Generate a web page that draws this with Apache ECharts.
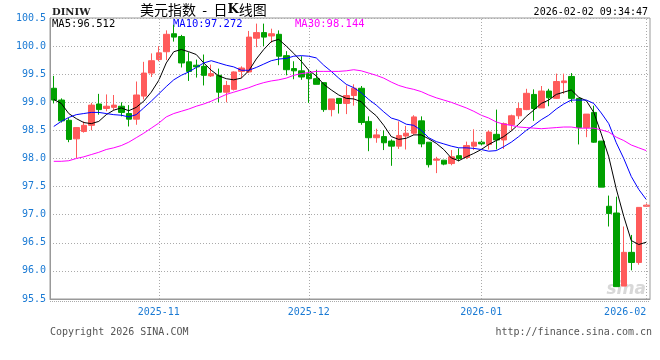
<!DOCTYPE html>
<html><head><meta charset="utf-8">
<script src="https://cdn.jsdelivr.net/npm/echarts@6/dist/echarts.min.js"></script>
<style>html,body{margin:0;padding:0;background:#fff}#c{width:660px;height:360px}</style>
</head><body><div id="c"></div>
<script>
const categories = [
 '2025-10-14','2025-10-15','2025-10-16','2025-10-17','2025-10-20','2025-10-21','2025-10-22','2025-10-23','2025-10-24','2025-10-27','2025-10-28','2025-10-29','2025-10-30','2025-10-31',
 '2025-11-03','2025-11-04','2025-11-05','2025-11-06','2025-11-07','2025-11-10','2025-11-11','2025-11-12','2025-11-13','2025-11-14','2025-11-17','2025-11-18','2025-11-19','2025-11-20','2025-11-21','2025-11-24','2025-11-25','2025-11-26','2025-11-27','2025-11-28',
 '2025-12-01','2025-12-02','2025-12-03','2025-12-04','2025-12-05','2025-12-08','2025-12-09','2025-12-10','2025-12-11','2025-12-12','2025-12-15','2025-12-16','2025-12-17','2025-12-18','2025-12-19','2025-12-22','2025-12-23','2025-12-24','2025-12-25','2025-12-26','2025-12-29','2025-12-30','2025-12-31',
 '2026-01-01','2026-01-02','2026-01-05','2026-01-06','2026-01-07','2026-01-08','2026-01-09','2026-01-12','2026-01-13','2026-01-14','2026-01-15','2026-01-16','2026-01-19','2026-01-20','2026-01-21','2026-01-22','2026-01-23','2026-01-26','2026-01-27','2026-01-28','2026-01-29','2026-01-30',
 '2026-02-02'
];
const opens = [99.25,99.04,98.68,98.35,98.48,98.59,98.97,98.89,98.91,98.93,
 98.80,98.70,99.11,99.52,99.76,99.90,100.22,100.17,99.72,99.66,
 99.64,99.47,99.48,99.18,99.23,99.55,99.54,100.14,100.24,100.18,
 100.21,99.83,99.60,99.56,99.51,99.42,99.35,98.87,99.07,98.98,
 99.12,99.25,98.66,98.37,98.39,98.31,98.22,98.40,98.45,98.67,
 98.29,97.97,97.97,97.91,98.05,98.02,98.22,98.29,98.25,98.43,
 98.33,98.60,98.76,98.87,99.14,98.90,99.20,99.07,99.35,99.46,
 99.07,98.55,98.82,98.31,97.15,97.03,95.73,96.33,96.15,97.15];
const closes = [99.04,98.67,98.34,98.55,98.59,98.95,98.87,98.93,98.95,98.82,
 98.70,99.13,99.52,99.74,99.88,100.21,100.16,99.70,99.55,99.63,
 99.48,99.51,99.18,99.30,99.54,99.61,100.16,100.24,100.16,100.22,
 99.82,99.58,99.56,99.45,99.42,99.32,98.87,99.06,98.98,99.12,
 99.25,98.64,98.37,98.42,98.28,98.22,98.41,98.45,98.74,98.26,
 97.89,97.99,97.90,98.03,98.00,98.23,98.29,98.26,98.47,98.33,
 98.62,98.76,98.89,99.16,98.89,99.20,99.08,99.37,99.38,99.07,
 98.55,98.79,98.29,97.49,97.02,95.72,96.33,96.15,97.13,97.17];
const lows = [98.98,98.64,98.29,98.01,98.46,98.50,98.78,98.84,98.86,98.75,
 98.57,98.60,99.05,99.45,99.73,99.75,100.08,99.62,99.38,99.44,
 99.30,99.45,99.00,99.00,99.21,99.43,99.52,99.98,100.00,100.06,
 99.66,99.48,99.41,99.40,98.99,99.32,98.83,98.75,98.80,98.79,
 98.94,98.60,98.13,98.28,98.15,97.87,98.17,98.16,98.42,98.20,
 97.84,97.74,97.88,97.88,97.95,97.99,98.15,98.24,98.16,98.16,
 98.17,98.50,98.70,98.86,98.67,98.90,98.93,99.06,99.15,99.00,
 98.25,98.38,98.28,97.49,96.79,95.72,95.73,96.01,96.11,97.14];
const highs = [99.47,99.07,98.72,98.56,98.66,98.99,99.15,99.14,99.13,99.00,
 98.95,99.37,99.72,99.87,100.00,100.28,100.38,100.20,99.89,99.76,
 99.85,99.67,99.60,99.38,99.55,99.64,100.27,100.40,100.40,100.31,
 100.28,99.91,99.73,99.82,99.58,99.58,99.35,99.06,99.07,99.30,
 99.32,99.29,98.75,98.53,98.50,98.34,98.66,98.58,98.77,98.75,
 98.29,98.03,97.97,98.15,98.18,98.30,98.52,98.32,98.50,98.87,
 98.64,98.78,98.99,99.24,99.23,99.29,99.24,99.51,99.51,99.52,
 99.07,98.79,98.94,98.31,97.34,97.32,96.79,96.64,97.13,97.20];
const ma5 = [99.05,98.98,98.80,98.71,98.64,98.62,98.66,98.78,98.86,98.90,
 98.85,98.91,99.02,99.18,99.39,99.70,99.90,99.94,99.90,99.85,
 99.70,99.57,99.47,99.42,99.40,99.43,99.56,99.77,99.94,100.08,
 100.12,100.00,99.87,99.73,99.57,99.47,99.32,99.22,99.13,99.07,
 99.06,99.01,98.87,98.76,98.59,98.39,98.34,98.36,98.42,98.42,
 98.35,98.27,98.16,98.01,97.96,98.03,98.09,98.16,98.25,98.32,
 98.39,98.49,98.61,98.75,98.86,98.98,99.04,99.14,99.18,99.22,
 99.09,99.03,98.82,98.44,98.03,97.46,96.97,96.54,96.47,96.51];
const ma10 = [98.57,98.66,98.73,98.78,98.80,98.82,98.82,98.80,98.78,98.77,
 98.74,98.78,98.90,99.02,99.15,99.28,99.40,99.48,99.54,99.62,
 99.70,99.74,99.70,99.66,99.63,99.57,99.57,99.62,99.68,99.74,
 99.77,99.78,99.82,99.83,99.82,99.79,99.66,99.55,99.43,99.32,
 99.26,99.17,99.05,98.95,98.83,98.72,98.68,98.61,98.59,98.50,
 98.37,98.30,98.26,98.22,98.19,98.19,98.18,98.16,98.13,98.14,
 98.21,98.29,98.39,98.50,98.59,98.69,98.77,98.88,98.97,99.04,
 99.04,99.04,98.98,98.81,98.62,98.28,98.00,97.68,97.45,97.27];
const ma30 = [97.95,97.95,97.96,98.00,98.03,98.07,98.11,98.16,98.19,98.23,
 98.29,98.37,98.45,98.54,98.63,98.74,98.80,98.84,98.88,98.93,
 98.97,99.02,99.08,99.14,99.18,99.22,99.26,99.31,99.35,99.38,
 99.40,99.43,99.48,99.51,99.53,99.55,99.55,99.55,99.55,99.56,
 99.58,99.56,99.52,99.48,99.43,99.36,99.30,99.26,99.23,99.19,
 99.13,99.08,99.04,99.00,98.95,98.90,98.84,98.77,98.72,98.65,
 98.61,98.59,98.56,98.55,98.54,98.53,98.54,98.55,98.56,98.56,
 98.54,98.54,98.54,98.51,98.47,98.38,98.32,98.24,98.19,98.14];
const monthTicks = {'2025-11-03':'2025-11','2025-12-01':'2025-12','2026-01-01':'2026-01','2026-02-02':'2026-02'};
const maLegend = [['MA5','96.512'],['MA10','97.272'],['MA30','98.144']];
const titleMain = '美元指数  -  日';
const titleK = 'K';
const titleTail = '线图';
const symbolText = 'DINIW';
const stampText = '2026-02-02 09:34:47';
const footerLeft = 'Copyright 2026 SINA.COM';
const footerRight = 'http://finance.sina.com.cn';

const MONO = '"DejaVu Sans Mono", monospace';
const BLUE = '#1a7ad4';
const maColors = ['#000000','#0000ff','#ff00ff'];
const maX = [52, 173, 295];

const kData = categories.map((c,i)=>[opens[i],closes[i],lows[i],highs[i]]);

const chart = echarts.init(document.getElementById('c'), null, {renderer:'canvas'});
const graphics = [
  {type:'text', style:{text:symbolText, x:52, y:12, verticalAlign:'middle', font:'bold 10px "DejaVu Serif"', fill:'#222'}},
  {type:'text', style:{text:titleMain+'{k|'+titleK+'}'+titleTail, x:140, y:10, align:'left', verticalAlign:'middle',
     font:'14px "Noto Sans CJK SC"', fill:'#000', rich:{k:{fontWeight:'bold', fontFamily:'DejaVu Serif', fontSize:13, fill:'#000'}}}},
  {type:'text', style:{text:stampText, x:648, y:12, align:'right', verticalAlign:'middle', font:'10px '+MONO, fill:'#000'}},
  {type:'text', style:{text:footerLeft, x:50, y:332, verticalAlign:'middle', font:'10px '+MONO, fill:'#555'}},
  {type:'text', style:{text:footerRight, x:652, y:332, align:'right', verticalAlign:'middle', font:'10px '+MONO, fill:'#555'}},
  {type:'text', z:0, style:{text:'sina', x:646, y:290, align:'right', verticalAlign:'middle', font:'italic bold 17px "DejaVu Sans"', fill:'#d8d8d8'}},
  {type:'line', shape:{x1:50, y1:301.5, x2:650, y2:301.5}, style:{stroke:'#aaa', lineWidth:1, lineDash:[1,1]}}
];
maLegend.forEach((m,i)=>{
  graphics.push({type:'text', style:{text:m[0]+':'+m[1], x:maX[i], y:24, verticalAlign:'middle', font:'10.5px '+MONO, fill:maColors[i]}});
});

const option = {
  animation:false,
  backgroundColor:'#fff',
  grid:{left:50, right:10, top:18, height:281, show:true, borderColor:'#999', borderWidth:1, backgroundColor:'transparent'},
  xAxis:{type:'category', data:categories, boundaryGap:true,
    axisLine:{show:true, lineStyle:{color:'#999'}}, axisTick:{show:false}, splitLine:{show:false},
    axisLabel:{interval:(idx,val)=>monthTicks[val]!==undefined, formatter:(val)=>monthTicks[val]||'',
      color:BLUE, fontFamily:'DejaVu Sans Mono', fontSize:10, margin:8, showMaxLabel:true, alignMaxLabel:'right'}},
  yAxis:{type:'value', min:95.5, max:100.5, interval:0.5, scale:true,
    axisLine:{show:true, lineStyle:{color:'#999'}}, axisTick:{show:false},
    axisLabel:{formatter:(v)=>v.toFixed(1), color:BLUE, fontFamily:'DejaVu Sans Mono', fontSize:10, margin:4},
    splitLine:{show:true, lineStyle:{color:'#aaa', type:[1,2], width:1}}},
  series:[
    {type:'candlestick', data:kData, barWidth:6,
      itemStyle:{color:'#ff5b5b', color0:'#00a000', borderColor:'#ff5b5b', borderColor0:'#00a000', borderWidth:1},
      markLine:{silent:true, symbol:'none', label:{show:false}, animation:false,
        lineStyle:{color:'#aaa', type:[1,2], width:1},
        data:Object.keys(monthTicks).map(d=>({xAxis:d}))}},
    {type:'line', data:ma5, showSymbol:false, symbol:'none', lineStyle:{color:maColors[0], width:1}, z:3},
    {type:'line', data:ma10, showSymbol:false, symbol:'none', lineStyle:{color:maColors[1], width:1}, z:3},
    {type:'line', data:ma30, showSymbol:false, symbol:'none', lineStyle:{color:maColors[2], width:1}, z:3}
  ],
  graphic:graphics
};
chart.setOption(option);
</script></body></html>
